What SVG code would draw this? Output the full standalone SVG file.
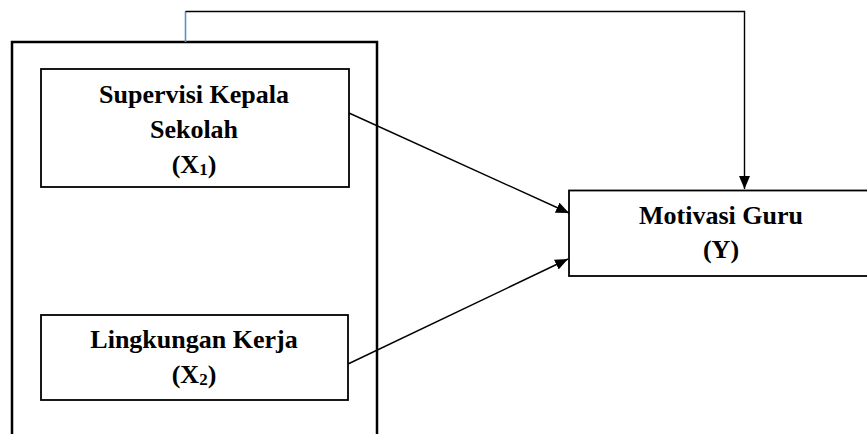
<svg xmlns="http://www.w3.org/2000/svg" width="867" height="434" viewBox="0 0 867 434">
<style>
.box{fill:#fff;stroke:#000;stroke-width:1.8}
.outer{fill:none;stroke:#000;stroke-width:2.5}
.t{font-family:"Liberation Serif","Times New Roman",serif;font-weight:bold;font-size:26px;fill:#000;text-anchor:middle}
.sub{font-size:17px}
.edge{fill:none;stroke:#000;stroke-width:1.4}
</style>
<defs>
<marker id="ah" markerUnits="userSpaceOnUse" markerWidth="14" markerHeight="12" refX="13" refY="5.5" orient="auto">
<path d="M0,0 L13,5.5 L0,11 z" fill="#000"/>
</marker>
</defs>
<g id="outer-group">
<path class="outer" d="M12,440 L12,42 L377,42 L377,440"/>
</g>
<g id="x1">
<rect class="box" x="41" y="69" width="308" height="118"/>
<text class="t" x="194" y="103">Supervisi Kepala</text>
<text class="t" x="194" y="138">Sekolah</text>
<text class="t" x="194" y="173">(X<tspan class="sub" dy="2">1</tspan><tspan dy="-2">)</tspan></text>
</g>
<g id="x2">
<rect class="box" x="41" y="315" width="307" height="85"/>
<text class="t" x="194" y="348">Lingkungan Kerja</text>
<text class="t" x="194" y="383">(X<tspan class="sub" dy="2">2</tspan><tspan dy="-2">)</tspan></text>
</g>
<g id="y">
<rect class="box" x="569" y="190.5" width="310" height="85.5"/>
<text class="t" x="721" y="224">Motivasi Guru</text>
<text class="t" x="721" y="258">(Y)</text>
</g>
<g id="connectors">
<line x1="185.5" y1="42" x2="185.5" y2="11.5" stroke="#5b8fd0" stroke-width="1.6"/>
<path class="edge" stroke="#444" d="M185.5,11.5 L744.5,11.5 L744.5,189" marker-end="url(#ah)"/>
<line class="edge" x1="349" y1="113" x2="569" y2="213" marker-end="url(#ah)"/>
<line class="edge" x1="348" y1="364" x2="568" y2="259" marker-end="url(#ah)"/>
</g>
</svg>
